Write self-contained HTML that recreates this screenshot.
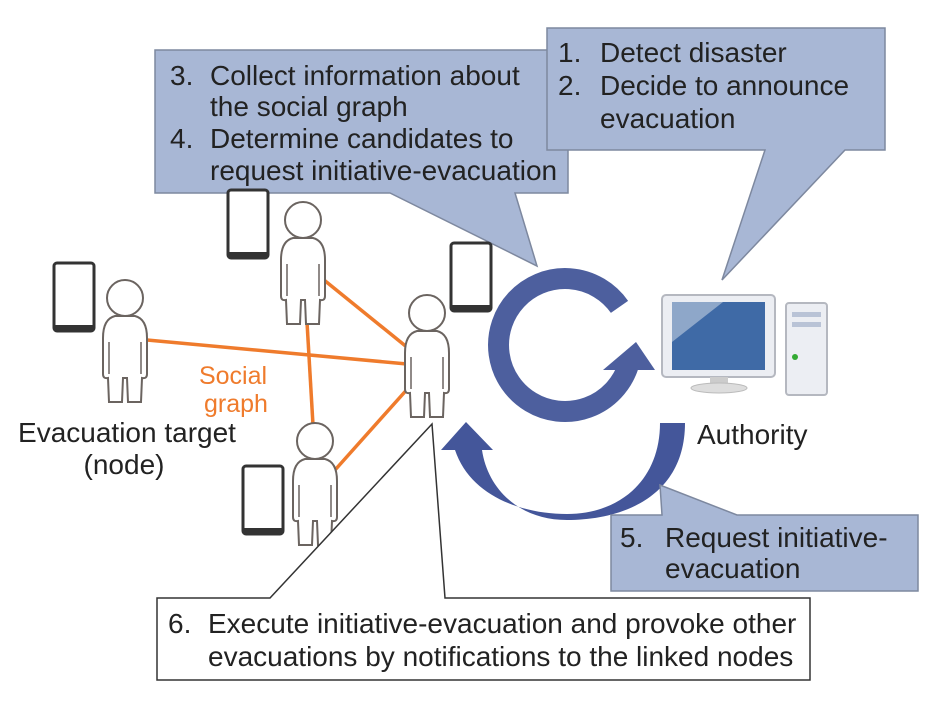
<!DOCTYPE html>
<html><head><meta charset="utf-8"><style>
html,body{margin:0;padding:0;background:#fff;}
svg{display:block;}
text{font-family:"Liberation Sans",sans-serif;}
</style></head><body>
<svg width="948" height="708" viewBox="0 0 948 708" xmlns="http://www.w3.org/2000/svg">
<defs>
<g id="person" fill="#fff" stroke="#6b6460" stroke-width="2">
 <path d="M -10 18 Q -22 21 -22 40 L -22 76 Q -22 81 -17 80 L -16 104 L -3 104 L -2 80 L 2 80 L 3 104 L 16 104 L 17 80 Q 22 81 22 76 L 22 40 Q 22 21 10 18 Z"/>
 <circle cx="0" cy="0" r="18"/>
 <path d="M -16 44 L -16 76 M 16 44 L 16 76" fill="none" stroke-width="1.5"/>
</g>
<g id="phone">
 <rect x="0" y="0" width="40" height="68" rx="3" fill="#fff" stroke="#333" stroke-width="3"/>
 <rect x="0" y="62" width="40" height="6" fill="#333"/>
</g>
</defs>

<path d="M155 50 L568 50 L568 193 L515 193 L537 266 L390 193 L155 193 Z" fill="#a8b7d5" stroke="#7d889f" stroke-width="1.5"/>
<path d="M547 28 L885 28 L885 150 L845 150 L722 280 L765 150 L547 150 Z" fill="#a8b7d5" stroke="#7d889f" stroke-width="1.5"/>

<g font-size="28" fill="#222">
<text x="170" y="85">3.</text><text x="210" y="85">Collect information about</text>
<text x="210" y="116">the social graph</text>
<text x="170" y="148">4.</text><text x="210" y="148">Determine candidates to</text>
<text x="210" y="180">request initiative-evacuation</text>
<text x="558" y="62">1.</text><text x="600" y="62">Detect disaster</text>
<text x="558" y="95">2.</text><text x="600" y="95">Decide to announce</text>
<text x="600" y="128">evacuation</text>
</g>

<use href="#phone" x="54" y="263"/>
<use href="#phone" x="228" y="190"/>
<use href="#phone" x="451" y="243"/>
<use href="#phone" x="243" y="466"/>

<g stroke="#ef7b2c" stroke-width="3.5" fill="none">
<line x1="147" y1="340" x2="407" y2="364"/>
<line x1="324" y1="280" x2="408" y2="348"/>
<line x1="307" y1="322" x2="313" y2="425"/>
<line x1="335" y1="470" x2="411" y2="385"/>
</g>

<use href="#person" x="125" y="298"/>
<use href="#person" x="303" y="220"/>
<use href="#person" x="427" y="313"/>
<use href="#person" x="315" y="441"/>

<text x="233" y="384" font-size="25" fill="#ef7b2c" text-anchor="middle">Social</text>
<text x="236" y="412" font-size="25" fill="#ef7b2c" text-anchor="middle">graph</text>
<text x="127" y="442" font-size="28" fill="#222" text-anchor="middle">Evacuation target</text>
<text x="124" y="474" font-size="28" fill="#222" text-anchor="middle">(node)</text>

<path d="M 619.5 306.9 A 66.5 66.5 0 1 0 627.9 366.7" fill="none" stroke="#4d5f9e" stroke-width="21"/>
<path d="M 603 370 L 655 370 L 636 342 Z" fill="#4d5f9e"/>

<path d="M 660 423 L 685 423 C 685 495 625 520 567 520 C 520 520 488 490 482 450 L 493 450 L 466 422 L 441 450 L 455 450 C 470 495 520 514 567 514 C 620 514 660 480 660 423 Z" fill="#44569a"/>

<rect x="662" y="295" width="113" height="82" rx="4" fill="#eceef3" stroke="#b5b8c0" stroke-width="2"/>
<rect x="672" y="302" width="93" height="68" fill="#3f6aa6"/>
<path d="M672 302 L723 302 L672 342 Z" fill="#8ea7c9"/>
<rect x="710" y="377" width="18" height="8" fill="#ccc"/>
<ellipse cx="719" cy="388" rx="28" ry="5" fill="#ddd" stroke="#bbb"/>
<rect x="786" y="303" width="41" height="92" rx="3" fill="#eceef3" stroke="#b5b8c0" stroke-width="2"/>
<rect x="792" y="312" width="29" height="5" fill="#b9c3d6"/>
<rect x="792" y="322" width="29" height="5" fill="#b9c3d6"/>
<circle cx="795" cy="357" r="3" fill="#3a3"/>
<text x="697" y="444" font-size="28" fill="#222">Authority</text>

<path d="M611 515 L662 515 L660 485 L737 515 L918 515 L918 591 L611 591 Z" fill="#a8b7d5" stroke="#7d889f" stroke-width="1.5"/>
<g font-size="28" fill="#222">
<text x="620" y="547">5.</text><text x="665" y="547">Request initiative-</text>
<text x="665" y="578">evacuation</text>
</g>

<path d="M157 598 L270 598 L432 424 L445 598 L810 598 L810 680 L157 680 Z" fill="#fff" stroke="#333" stroke-width="1.5"/>
<g font-size="28" fill="#222">
<text x="168" y="633">6.</text><text x="208" y="633">Execute initiative-evacuation and provoke other</text>
<text x="208" y="666">evacuations by notifications to the linked nodes</text>
</g>
</svg>
</body></html>
